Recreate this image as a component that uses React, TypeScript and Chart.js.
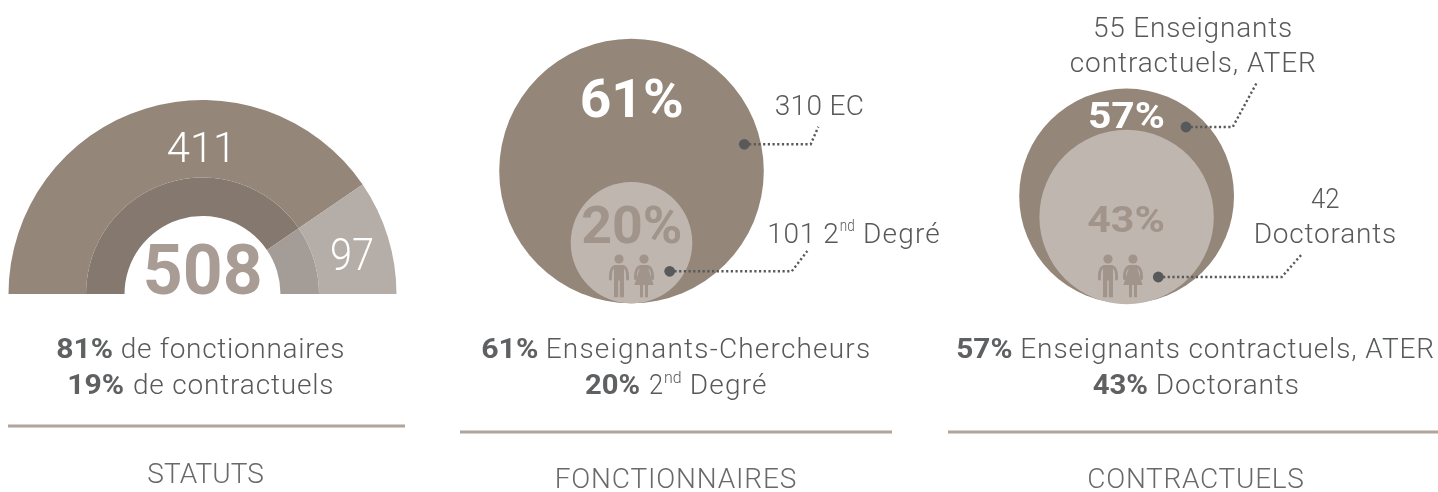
import React, { useEffect, useRef } from "react";
import { Chart, registerables } from "chart.js";

Chart.register(...registerables);

// ---- data ----
const statutLabels = ["Fonctionnaires", "Contractuels"];
const statutCounts = [411, 97];
const statutTotal = 508;
const statutShares = [81, 19];
const fonctionnaireLabels = ["EC", "2nd Degré"];
const fonctionnaireCounts = [310, 101];
const fonctionnaireShares = [61, 20];
const contractuelLabels = ["Enseignants contractuels, ATER", "Doctorants"];
const contractuelCounts = [55, 42];
const contractuelShares = [57, 43];

// ---- styles ----
const BROWN = "#948679";
const BROWN_DARK = "#84786f";
const TAUPE = "#b5ada7";
const TAUPE_DARK = "#a49c97";
const PALE = "#c0b6b0";
const MUTED = "#a0948b";
const TOTAL = "#a89c95";
const INK = "#58595b";
const RULE = "#b0a49c";
const FONT = "Roboto, 'Open Sans', sans-serif";

type Pt = { x: number; y: number };
type Txt = { t: string; l: number; r: number; y: number; size: number; weight: number; color: string };

const light = (t: string, l: number, r: number, y: number, size = 28, color = INK): Txt => ({ t, l, r, y, size, weight: 300, color });
const bold = (t: string, l: number, r: number, y: number, size = 28, color = "#5f6062"): Txt => ({ t, l, r, y, size, weight: 700, color });

const texts: Txt[] = [
  light(String(statutCounts[0]), 167.7, 227.7, 161.7, 43, "#ffffff"),
  light(String(statutCounts[1]), 331.7, 372.7, 270, 44, "#ffffff"),
  bold(String(statutTotal), 145.7, 260, 294, 71, TOTAL),
  bold(`${statutShares[0]}%`, 57.3, 112.3, 358.3),
  light("de fonctionnaires", 121.7, 343.3, 358.3),
  bold(`${statutShares[1]}%`, 69.3, 123.3, 394),
  light("de contractuels", 134, 332.3, 394),
  light("STATUTS", 148.3, 263.3, 483.3, 28, "#68696b"),

  bold(`${fonctionnaireShares[0]}%`, 581.7, 681.7, 116.7, 54, "#ffffff"),
  bold(`${fonctionnaireShares[1]}%`, 582.3, 681, 243.3, 52, MUTED),
  light(`${fonctionnaireCounts[0]} ${fonctionnaireLabels[0]}`, 775.7, 862.7, 115, 28),
  light(`${fonctionnaireCounts[1]} 2`, 769.3, 838.3, 242.7, 28),
  light("nd", 840.7, 854, 231, 16),
  light("Degré", 865, 939.3, 242.7, 28),
  bold(`${fonctionnaireShares[0]}%`, 482.3, 537.7, 358.3),
  light("Enseignants-Chercheurs", 547.7, 869, 358.3),
  bold(`${fonctionnaireShares[1]}%`, 585, 639.3, 394),
  light("2", 650, 662.7, 394),
  light("nd", 665, 680.7, 383.3, 16),
  light("Degré", 691.7, 766, 394),
  light("FONCTIONNAIRES", 556.7, 795.7, 488.3, 28, "#68696b"),

  bold(`${contractuelShares[0]}%`, 1089, 1163.3, 127.7, 37, "#ffffff"),
  bold(`${contractuelShares[1]}%`, 1088.3, 1163.3, 232.3, 37, MUTED),
  light(`${contractuelCounts[0]} Enseignants`, 1095, 1291, 36.7, 28),
  light("contractuels, ATER", 1070.7, 1315, 71.7, 28),
  light(String(contractuelCounts[1]), 1311, 1339, 207.7, 28),
  light(contractuelLabels[1], 1255.7, 1395, 242.7, 28),
  bold(`${contractuelShares[0]}%`, 957.3, 1011.7, 358.3),
  light(contractuelLabels[0], 1022.3, 1433.3, 358.3),
  bold(`${contractuelShares[1]}%`, 1092.7, 1147.3, 394),
  light(contractuelLabels[1], 1157.7, 1297.7, 394),
  light("CONTRACTUELS", 1088.3, 1303.3, 488.3, 28, "#68696b"),
];

// ---- page layout, in the overlay's pixel-based scale units ----
const circles = [
  { label: "EC", x: 631.5, y: 171, r: 132.3, color: BROWN, order: 6 },
  { label: "2nd Degré", x: 631.5, y: 242.7, r: 60.8, color: PALE, order: 5 },
  { label: "Enseignants contractuels, ATER", x: 1126.6, y: 196, r: 107.4, color: BROWN, order: 6 },
  { label: "Doctorants", x: 1126.6, y: 217, r: 87.2, color: PALE, order: 5 },
];
const leaders: Pt[][] = [
  [{ x: 744.3, y: 144.3 }, { x: 810.7, y: 144.3 }, { x: 818.3, y: 126.7 }],
  [{ x: 669.7, y: 271.3 }, { x: 791.7, y: 271.3 }, { x: 807.3, y: 251 }],
  [{ x: 1186, y: 127 }, { x: 1232.7, y: 127 }, { x: 1257.3, y: 81.7 }],
  [{ x: 1158.3, y: 277 }, { x: 1281.7, y: 277 }, { x: 1302.7, y: 253.3 }],
];
const rules: Pt[][] = [
  [{ x: 8, y: 426 }, { x: 405, y: 426 }],
  [{ x: 460, y: 432 }, { x: 892, y: 432 }],
  [{ x: 948, y: 432 }, { x: 1438, y: 432 }],
];
const people = [
  { man: 619, woman: 644 },
  { man: 1108, woman: 1133 },
];

function drawText(ctx: CanvasRenderingContext2D, item: Txt) {
  ctx.save();
  ctx.font = `${item.weight} ${item.size}px ${FONT}`;
  ctx.fillStyle = item.color;
  ctx.textAlign = "left";
  ctx.textBaseline = "alphabetic";
  (ctx as any).letterSpacing = "0px";
  const m = ctx.measureText(item.t);
  const ink = m.actualBoundingBoxLeft + m.actualBoundingBoxRight;
  const target = item.r - item.l;
  const gaps = Math.max(1, item.t.length - 1);
  if (item.weight >= 700 || target < ink) {
    // condensed strings and the wide bold figures are fitted by a horizontal scale
    ctx.translate(item.l, item.y);
    ctx.scale(target / ink, 1);
    ctx.fillText(item.t, m.actualBoundingBoxLeft, 0);
  } else {
    (ctx as any).letterSpacing = `${(target - ink) / gaps}px`;
    ctx.fillText(item.t, item.l + m.actualBoundingBoxLeft, item.y);
  }
  ctx.restore();
}

function drawPerson(ctx: CanvasRenderingContext2D, x: number, woman: boolean) {
  ctx.save();
  ctx.fillStyle = MUTED;
  ctx.strokeStyle = MUTED;
  ctx.beginPath();
  ctx.arc(x, 259, 4.6, 0, Math.PI * 2);
  ctx.fill();
  ctx.lineWidth = 3;
  ctx.lineCap = "round";
  ctx.beginPath();
  if (woman) {
    ctx.moveTo(x - 8.6, 278.5);
    ctx.quadraticCurveTo(x - 9, 268, x - 3.5, 266.4);
    ctx.lineTo(x + 3.5, 266.4);
    ctx.quadraticCurveTo(x + 9, 268, x + 8.6, 278.5);
    ctx.stroke();
    ctx.beginPath();
    ctx.moveTo(x - 3.5, 266);
    ctx.lineTo(x + 3.5, 266);
    ctx.lineTo(x + 9.6, 285);
    ctx.lineTo(x - 9.6, 285);
    ctx.closePath();
    ctx.fill();
    ctx.fillRect(x - 4, 285, 3, 12.3);
    ctx.fillRect(x + 1, 285, 3, 12.3);
  } else {
    ctx.moveTo(x - 8.6, 279);
    ctx.quadraticCurveTo(x - 9, 267.5, x - 4, 266.4);
    ctx.lineTo(x + 4, 266.4);
    ctx.quadraticCurveTo(x + 9, 267.5, x + 8.6, 279);
    ctx.stroke();
    ctx.fillRect(x - 5, 265.5, 10, 15);
    ctx.fillRect(x - 5, 280, 4.2, 17.3);
    ctx.fillRect(x + 0.8, 280, 4.2, 17.3);
  }
  ctx.restore();
}

const overlayPlugin = {
  id: "overlayText",
  afterDatasetsDraw(chart: any) {
    const ctx = chart.ctx;
    people.forEach((p) => {
      drawPerson(ctx, p.man, false);
      drawPerson(ctx, p.woman, true);
    });
    texts.forEach((item) => drawText(ctx, item));
  },
};

export default function App() {
  const gaugeRef = useRef<HTMLCanvasElement>(null);
  const overlayRef = useRef<HTMLCanvasElement>(null);

  useEffect(() => {
    const gauge = new Chart(gaugeRef.current!, {
      type: "doughnut",
      data: {
        labels: statutLabels,
        datasets: [
          { data: statutCounts, backgroundColor: [BROWN, TAUPE], borderWidth: 0, weight: 77.5 },
          { data: statutCounts, backgroundColor: [BROWN_DARK, TAUPE_DARK], borderWidth: 0, weight: 38.5 },
        ],
      },
      options: {
        responsive: false,
        animation: false,
        rotation: -90,
        circumference: 180,
        cutout: "40.2%",
        layout: { padding: 0, autoPadding: false },
        plugins: { legend: { display: false }, tooltip: { enabled: false } },
      },
    } as any);

    const overlay = new Chart(overlayRef.current!, {
      type: "bubble",
      data: {
        datasets: [
          ...leaders.map((points) => ({
            type: "scatter",
            data: points,
            showLine: true,
            borderColor: INK,
            borderWidth: 2.4,
            borderDash: [2.2, 2.5],
            pointRadius: [5.4, 0, 0],
            pointBackgroundColor: INK,
            pointBorderWidth: 0,
            fill: false,
            tension: 0,
            order: 1,
          })),
          ...rules.map((points) => ({
            type: "scatter",
            data: points,
            showLine: true,
            borderColor: RULE,
            borderWidth: 3,
            pointRadius: 0,
            fill: false,
            order: 2,
          })),
          ...circles.map((c) => ({
            type: "bubble",
            label: c.label,
            data: [{ x: c.x, y: c.y, r: c.r }],
            backgroundColor: c.color,
            borderWidth: 0,
            order: c.order,
          })),
        ],
      },
      options: {
        responsive: false,
        animation: false,
        layout: { padding: 0, autoPadding: false },
        events: [],
        scales: {
          x: { type: "linear", min: 0, max: 1438, display: false },
          y: { type: "linear", min: 0, max: 492, reverse: true, display: false },
        },
        plugins: { legend: { display: false }, tooltip: { enabled: false } },
      },
      plugins: [overlayPlugin],
    } as any);

    return () => {
      gauge.destroy();
      overlay.destroy();
    };
  }, []);

  return (
    <div style={{ position: "absolute", left: 0, top: 0, width: 1438, height: 492, overflow: "hidden", background: "#fff" }}>
      <canvas ref={gaugeRef} width={389} height={194} style={{ position: "absolute", left: 8, top: 100 }} />
      <canvas ref={overlayRef} width={1438} height={492} style={{ position: "absolute", left: 0, top: 0 }} />
    </div>
  );
}
